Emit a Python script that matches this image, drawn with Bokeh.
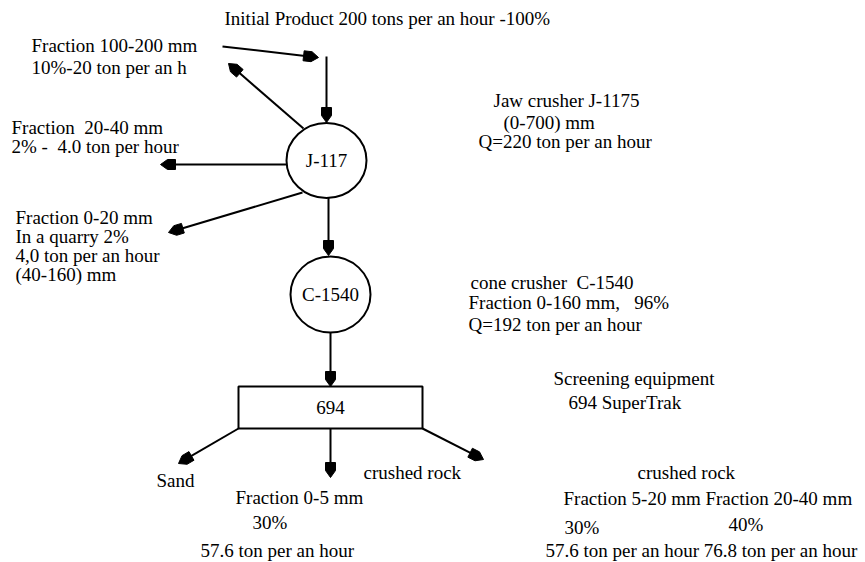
import numpy as np
from bokeh.plotting import figure
from bokeh.models import Range1d, ColumnDataSource
from bokeh.core.properties import value
from bokeh.embed import file_html
from bokeh.resources import INLINE

# ---- diagram data (page pixel coordinates) ----
circle_labels = ["J-117", "C-1540"]
circle_x = [326, 330]
circle_y = [160, 294]
circle_w = [80, 80]
circle_h = [75, 76]

box_label = ["694"]
box_left = [238]
box_right = [422]
box_top = [386]
box_bottom = [428]

arrow_x0 = [222, 326, 303, 287, 302, 328, 330, 238, 330, 422]
arrow_y0 = [46, 56, 128, 164, 192, 197, 332, 428, 428, 428]
arrow_x1 = [318, 326, 228, 160, 168, 328, 330, 178, 330, 483]
arrow_y1 = [57, 122, 63, 164, 232, 255, 386, 463, 477, 459]

NB = "\u00a0"
label_texts = [
    "Initial Product 200 tons per an hour -100%",
    "Fraction 100-200 mm", "10%-20 ton per an h",
    "Fraction " + NB + "20-40 mm", "2% - " + NB + "4.0 ton per hour",
    "Fraction 0-20 mm", "In a quarry 2%", "4,0 ton per an hour", "(40-160) mm",
    "Jaw crusher J-1175", "(0-700) mm", "Q=220 ton per an hour",
    "cone crusher " + NB + "C-1540", "Fraction 0-160 mm, " + NB + NB + "96%",
    "Q=192 ton per an hour",
    "Screening equipment", "694 SuperTrak",
    "Sand", "crushed rock", "Fraction 0-5 mm", "30%", "57.6 ton per an hour",
    "crushed rock", "Fraction 5-20 mm Fraction 20-40 mm", "30%", "40%",
    "57.6 ton per an hour 76.8 ton per an hour",
]
label_x = [224, 31, 31, 11, 11, 15, 15, 15, 15, 493, 503, 478, 470, 468, 468,
           553, 568, 156, 363, 235, 252, 200, 637, 563, 564, 728, 545]
label_y = [18, 45, 67, 127, 146, 217, 236, 255, 274, 100, 122, 141, 282, 302, 324,
           378, 402, 480, 472, 497, 522, 550, 472, 498, 527, 524, 550]

FONT = "Liberation Serif"
FS = "19px"

W, H = 865, 562
p = figure(width=W, height=H, output_backend="svg", toolbar_location=None,
           x_range=Range1d(0, W), y_range=Range1d(H, 0), min_border=0)
p.axis.visible = False
p.grid.visible = False
p.outline_line_color = None
p.background_fill_color = "white"
p.border_fill_color = "white"

# arrow shafts
ax0 = np.array(arrow_x0, float); ay0 = np.array(arrow_y0, float)
ax1 = np.array(arrow_x1, float); ay1 = np.array(arrow_y1, float)
L = np.hypot(ax1 - ax0, ay1 - ay0)
ux = (ax1 - ax0) / L; uy = (ay1 - ay0) / L
nx = -uy; ny = ux
HL, HM, HW = 15.0, 7.0, 5.0
p.segment(x0=ax0, y0=ay0, x1=ax1 - ux * HM, y1=ay1 - uy * HM,
          line_color="black", line_width=2)
xs, ys = [], []
for i in range(len(ax0)):
    tx, ty = ax1[i], ay1[i]
    xs.append([tx,
               tx - HM * ux[i] + HW * nx[i], tx - HL * ux[i] + HW * nx[i],
               tx - HL * ux[i] - HW * nx[i], tx - HM * ux[i] - HW * nx[i]])
    ys.append([ty,
               ty - HM * uy[i] + HW * ny[i], ty - HL * uy[i] + HW * ny[i],
               ty - HL * uy[i] - HW * ny[i], ty - HM * uy[i] - HW * ny[i]])
p.patches(xs=xs, ys=ys, fill_color="black", line_color="black", line_width=1)

# nodes
p.ellipse(x=circle_x, y=circle_y, width=circle_w, height=circle_h,
          fill_color="white", line_color="black", line_width=2)
p.quad(left=box_left, right=box_right, top=box_top, bottom=box_bottom,
       fill_color="white", line_color="black", line_width=2)

p.text(x=circle_x, y=circle_y, text=circle_labels, text_align="center",
       text_baseline="middle", text_font=value(FONT), text_font_size=FS,
       text_color="black")
p.text(x=[(box_left[0] + box_right[0]) / 2], y=[(box_top[0] + box_bottom[0]) / 2],
       text=box_label, text_align="center", text_baseline="middle",
       text_font=value(FONT), text_font_size=FS, text_color="black")

src = ColumnDataSource(dict(x=label_x, y=label_y, text=label_texts))
p.text(x="x", y="y", text="text", source=src, text_align="left",
       text_baseline="middle", text_font=value(FONT), text_font_size=FS,
       text_color="black")

open("out.html", "w").write(file_html(p, INLINE))
